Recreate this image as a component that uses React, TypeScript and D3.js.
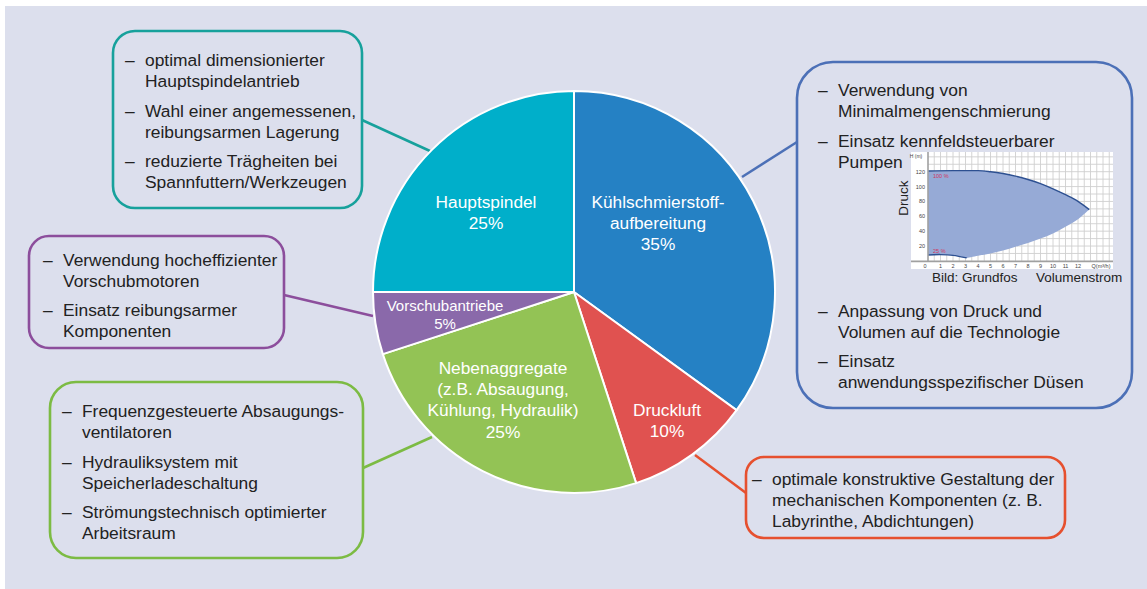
import React from "react";
import * as d3 from "d3";

// ---------- data ----------
const sliceNames = ["Kühlschmierstoffaufbereitung", "Druckluft", "Nebenaggregate", "Vorschubantriebe", "Hauptspindel"];
const sliceValues = [35, 10, 25, 5, 25];
const sliceLabelLines = [
  ["Kühlschmierstoff-", "aufbereitung", "35%"],
  ["Druckluft", "10%"],
  ["Nebenaggregate", "(z.B. Absaugung,", "Kühlung, Hydraulik)", "25%"],
  ["Vorschubantriebe", "5%"],
  ["Hauptspindel", "25%"],
];

const boxItemsKuehl = [
  ["Verwendung von", "Minimalmengenschmierung"],
  ["Einsatz kennfeldsteuerbarer", "Pumpen"],
];
const boxItemsKuehl2 = [
  ["Anpassung von Druck und", "Volumen auf die Technologie"],
  ["Einsatz", "anwendungsspezifischer Düsen"],
];
const boxItemsDruck = [["optimale konstruktive Gestaltung der", "mechanischen Komponenten (z. B.", "Labyrinthe, Abdichtungen)"]];
const boxItemsNeben = [
  ["Frequenzgesteuerte Absaugungs-", "ventilatoren"],
  ["Hydrauliksystem mit", "Speicherladeschaltung"],
  ["Strömungstechnisch optimierter", "Arbeitsraum"],
];
const boxItemsVorschub = [
  ["Verwendung hocheffizienter", "Vorschubmotoren"],
  ["Einsatz reibungsarmer", "Komponenten"],
];
const boxItemsHaupt = [
  ["optimal dimensionierter", "Hauptspindelantrieb"],
  ["Wahl einer angemessenen,", "reibungsarmen Lagerung"],
  ["reduzierte Trägheiten bei", "Spannfuttern/Werkzeugen"],
];

// inset pump chart (Grundfos)
const qTicks = [0, 1, 2, 3, 4, 5, 6, 7, 8, 9, 10, 11, 12];
const hTicks = [20, 40, 60, 80, 100, 120];
const q100 = [0, 2, 4, 5, 6, 7, 8, 9, 10, 11, 12, 12.9];
const h100 = [121, 121.5, 121.5, 120, 117.5, 114, 109.5, 104, 97, 89, 80, 69];
const q25 = [0, 1, 2, 3.1];
const h25 = [8, 8.5, 7.5, 4];
const qSys = [3.1, 4, 5, 6, 7, 8, 9, 10, 11, 12, 12.9];
const hSys = [4, 7, 10, 14, 19, 24, 30, 37, 46, 56, 69];

// ---------- styles / layout ----------
const W = 1147, H = 589;
const FONT = "'Liberation Sans', Arial, Helvetica, sans-serif";
const BODY = 17.4;
const sliceColors = ["#2581c4", "#e05250", "#93c355", "#8a69aa", "#00afca"];
const cx = 574, cy = 292, R = 201;
const labelPos = [
  { dx: 84, dy: -90, size: 17.3 },
  { dx: 93, dy: 118, size: 17.3 },
  { dx: -71, dy: 76, size: 17.3 },
  { dx: -129, dy: 13, size: 15 },
  { dx: -88, dy: -90, size: 17.3 },
];

type Box = { x: number; y: number; w: number; h: number; r: number; color: string };
const boxes: Box[] = [
  { x: 797, y: 62, w: 335, h: 346, r: 36, color: "#4c70b7" },
  { x: 746, y: 457, w: 319, h: 81, r: 18, color: "#e6502f" },
  { x: 50, y: 382, w: 313, h: 176, r: 26, color: "#7cbb43" },
  { x: 29, y: 236, w: 255, h: 112, r: 20, color: "#8c4e9c" },
  { x: 113, y: 31, w: 249, h: 177, r: 22, color: "#17a19c" },
];
const connectors = [
  { x1: 797, y1: 142, x2: 742, y2: 177 },
  { x1: 746, y1: 493, x2: 695, y2: 455 },
  { x1: 363, y1: 468, x2: 432, y2: 437 },
  { x1: 284, y1: 295, x2: 373, y2: 316 },
  { x1: 362, y1: 120, x2: 430, y2: 151 },
];

function Bullets({ items, x, y, lh = 21, gap = 8.5 }: { items: string[][]; x: number; y: number; lh?: number; gap?: number }) {
  let cur = y;
  const out: React.ReactNode[] = [];
  items.forEach((lines, i) => {
    out.push(
      <text key={"d" + i} x={x - 20} y={cur} dominantBaseline="central" fontSize={BODY} fill="#222">–</text>
    );
    lines.forEach((l, j) => {
      out.push(
        <text key={i + "-" + j} x={x} y={cur + j * lh} dominantBaseline="central" fontSize={BODY} fill="#222">{l}</text>
      );
    });
    cur += lines.length * lh + gap;
  });
  return <g>{out}</g>;
}

function Inset() {
  const xS = d3.scaleLinear().domain([0, 12]).range([928, 1078]);
  const yS = d3.scaleLinear().domain([0, 120]).range([260.9, 171.7]);
  const left = 911, right = 1113, top = 152, bottom = 269;
  const vGrid = d3.range(0.5, 14.9, 0.5);
  const hGrid = d3.range(10, 141, 10);
  const line = d3.line<[number, number]>().x(d => xS(d[0])).y(d => yS(d[1])).curve(d3.curveMonotoneX);
  const up: [number, number][] = q100.map((q, i) => [q, h100[i]]);
  const lowA: [number, number][] = q25.map((q, i) => [q, h25[i]]);
  const lowB: [number, number][] = qSys.map((q, i) => [q, hSys[i]]);
  const lowRev = [...lowB].reverse();
  const lowRevA = [...lowA].reverse();
  const lineRev = d3.line<[number, number]>().x(d => xS(d[0])).y(d => yS(d[1])).curve(d3.curveCatmullRom);
  const areaPath =
    (line(up) as string) +
    "L" + (lineRev(lowRev) as string).slice(1) +
    "L" + (lineRev(lowRevA) as string).slice(1) + "Z";
  return (
    <g>
      <rect x={left} y={top} width={right - left} height={bottom - top} fill="#ffffff" />
      {vGrid.map(v => (
        <line key={"v" + v} x1={xS(v)} x2={xS(v)} y1={top} y2={yS(0)} stroke="#cfcfcf" strokeWidth={0.9} />
      ))}
      {hGrid.map(v => (
        <line key={"h" + v} x1={xS(0)} x2={right} y1={yS(v)} y2={yS(v)} stroke="#cfcfcf" strokeWidth={0.9} />
      ))}
      <path d={areaPath} fill="#96aad6" />
      <path d={line(up) as string} fill="none" stroke="#2d5091" strokeWidth={1.4} />
      <path d={lineRev(lowA) as string} fill="none" stroke="#2d5091" strokeWidth={1.4} />
      <line x1={xS(0)} x2={xS(0)} y1={top} y2={yS(0)} stroke="#a0a0a0" strokeWidth={1.6} />
      <line x1={left} x2={right} y1={yS(0) + 0.5} y2={yS(0) + 0.5} stroke="#a0a0a0" strokeWidth={1.6} />
      {qTicks.map(q => (
        <text key={"q" + q} x={q === 0 ? xS(q) - 3 : xS(q)} y={265.7} fontSize={5.5} textAnchor="middle" dominantBaseline="central" fill="#444">{q}</text>
      ))}
      {hTicks.map(h => (
        <text key={"hh" + h} x={925} y={yS(h)} fontSize={5.5} textAnchor="end" dominantBaseline="central" fill="#444">{h}</text>
      ))}
      <text x={916} y={156} fontSize={5} textAnchor="middle" dominantBaseline="central" fill="#444">H (m)</text>
      <text x={1101} y={265.7} fontSize={5.5} textAnchor="middle" dominantBaseline="central" fill="#444">Q(m³/h)</text>
      <text x={933} y={176} fontSize={5.5} dominantBaseline="central" fill="#d1375f">100 %</text>
      <text x={933} y={250.5} fontSize={5.5} dominantBaseline="central" fill="#d1375f">25 %</text>
      <text x={903} y={198} fontSize={13.5} textAnchor="middle" dominantBaseline="central" fill="#222" transform="rotate(-90 903 198)">Druck</text>
      <text x={932} y={277.5} fontSize={13.5} dominantBaseline="central" fill="#222">Bild: Grundfos</text>
      <text x={1036} y={277.5} fontSize={13.5} dominantBaseline="central" fill="#222">Volumenstrom</text>
    </g>
  );
}

export default function App() {
  const arcs = d3.pie<number>().sort(null).value(d => d)(sliceValues);
  const arcGen = d3.arc<d3.PieArcDatum<number>>().innerRadius(0).outerRadius(R);
  return (
    <svg width={W} height={H} style={{ position: "absolute", left: 0, top: 0, fontFamily: FONT }}>
      <rect x={0} y={0} width={W} height={H} fill="#ffffff" />
      <rect x={5} y={6} width={W - 5} height={H - 6} fill="#dcdfed" />
      {connectors.map((c, i) => (
        <line key={"c" + i} x1={c.x1} y1={c.y1} x2={c.x2} y2={c.y2} stroke={boxes[i].color} strokeWidth={2.5} />
      ))}
      {boxes.map((b, i) => (
        <rect key={"b" + i} x={b.x} y={b.y} width={b.w} height={b.h} rx={b.r} ry={b.r} fill="#dcdfed" stroke={b.color} strokeWidth={2.6} />
      ))}
      <g transform={`translate(${cx},${cy})`}>
        {arcs.map((a, i) => (
          <path key={sliceNames[i]} d={arcGen(a) as string} fill={sliceColors[i]} stroke="#ffffff" strokeWidth={2} />
        ))}
        {arcs.map((a, i) => {
          const p = labelPos[i];
          const lh = p.size > 16 ? 21.2 : 18.5;
          return (
            <g key={"l" + i}>
              {sliceLabelLines[i].map((t, j) => (
                <text key={j} x={p.dx} y={p.dy + j * lh} textAnchor="middle" dominantBaseline="central" fontSize={p.size} fill="#ffffff">{t}</text>
              ))}
            </g>
          );
        })}
      </g>
      <Bullets items={boxItemsKuehl} x={838} y={90} />
      <Bullets items={boxItemsKuehl2} x={838} y={310.5} />
      <Bullets items={boxItemsDruck} x={772} y={478.5} />
      <Bullets items={boxItemsNeben} x={82} y={411} />
      <Bullets items={boxItemsVorschub} x={63} y={259.5} />
      <Bullets items={boxItemsHaupt} x={145} y={60} />
      <Inset />
    </svg>
  );
}
